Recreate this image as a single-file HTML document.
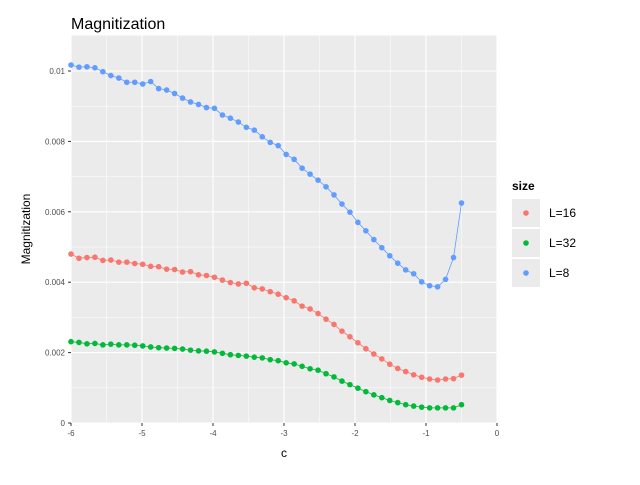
<!DOCTYPE html>
<html><head><meta charset="utf-8"><style>
body{margin:0;background:#fff;font-family:"Liberation Sans",sans-serif}
svg text{font-family:"Liberation Sans",sans-serif}
</style></head><body>
<svg id="chart" width="640" height="480" xmlns="http://www.w3.org/2000/svg">
<text x="71" y="29" font-size="16" fill="#000">Magnitization</text>
<rect x="71" y="35" width="426" height="388" fill="#EBEBEB"/>
<g id="grid"></g>
<g id="axes"></g>
<g id="series"></g>
<text x="284" y="457" font-size="12" text-anchor="middle">c</text>
<text transform="translate(30,229) rotate(-90)" font-size="12" text-anchor="middle">Magnitization</text>
<g>
<text x="512" y="190" font-size="12" font-weight="bold">size</text>
<g id="legend"></g>
</g>
</svg>
<script>
const cValues=[];for(let i=0;i<50;i++)cValues.push(-6+i*5.5/49);
const seriesNames=["L=16","L=32","L=8"];
const seriesColors=["#F8766D","#00BA38","#619CFF"];
const valsL16=[4.80,4.68,4.70,4.71,4.62,4.63,4.57,4.57,4.53,4.51,4.45,4.44,4.37,4.36,4.29,4.30,4.21,4.19,4.14,4.06,3.99,3.95,3.97,3.84,3.81,3.73,3.66,3.56,3.47,3.32,3.24,3.11,2.95,2.80,2.61,2.45,2.28,2.11,1.96,1.82,1.67,1.55,1.46,1.37,1.30,1.25,1.22,1.25,1.26,1.36];
const valsL32=[2.31,2.29,2.25,2.26,2.22,2.24,2.22,2.22,2.21,2.19,2.16,2.14,2.13,2.12,2.10,2.07,2.05,2.04,2.02,1.98,1.94,1.92,1.90,1.87,1.85,1.80,1.77,1.71,1.68,1.61,1.54,1.50,1.40,1.31,1.19,1.09,0.99,0.89,0.80,0.72,0.64,0.58,0.52,0.48,0.45,0.43,0.43,0.43,0.43,0.52];
const valsL8=[10.17,10.11,10.12,10.09,9.98,9.87,9.80,9.68,9.68,9.63,9.70,9.50,9.46,9.36,9.23,9.12,9.05,8.96,8.94,8.75,8.66,8.55,8.40,8.32,8.13,7.97,7.88,7.63,7.49,7.24,7.07,6.90,6.71,6.48,6.22,5.99,5.70,5.46,5.21,4.98,4.75,4.54,4.35,4.24,4.01,3.90,3.87,4.08,4.70,6.25];
const xTicks=[-6,-5,-4,-3,-2,-1,0];
const xTickLabels=["-6","-5","-4","-3","-2","-1","0"];
const yTicks=[0,0.002,0.004,0.006,0.008,0.01];
const yTickLabels=["0","0.002","0.004","0.006","0.008","0.01"];
const NS="http://www.w3.org/2000/svg";
const X=v=>71+(v+6)*71;
const Y=v=>423-v*35200;
function mk(t,a,p){const e=document.createElementNS(NS,t);for(const k in a)e.setAttribute(k,a[k]);p.appendChild(e);return e;}
const grid=document.getElementById('grid'),axes=document.getElementById('axes');
for(let i=0;i<xTicks.length-1;i++){const m=(xTicks[i]+xTicks[i+1])/2;const l=mk('line',{x1:X(m),x2:X(m),y1:35,y2:423,stroke:'#fff','stroke-width':0.5},grid);
}
for(let i=0;i<yTicks.length;i++){const m=yTicks[i]+0.001;if(Y(m)<35)continue;const l=mk('line',{x1:71,x2:497,y1:Y(m),y2:Y(m),stroke:'#fff','stroke-width':0.5},grid);
}
xTicks.forEach((t,i)=>{const l=mk('line',{x1:X(t),x2:X(t),y1:35,y2:423,stroke:'#fff','stroke-width':1.1},grid);

mk('line',{x1:X(t),x2:X(t),y1:423,y2:426,stroke:'#333','stroke-width':1},axes);
const tx=mk('text',{x:X(t),y:436,'font-size':8,'text-anchor':'middle',fill:'#4d4d4d'},axes);tx.textContent=xTickLabels[i];
});
yTicks.forEach((t,i)=>{const l=mk('line',{x1:71,x2:497,y1:Y(t),y2:Y(t),stroke:'#fff','stroke-width':1.1},grid);

mk('line',{x1:68,x2:71,y1:Y(t),y2:Y(t),stroke:'#333','stroke-width':1},axes);
const tx=mk('text',{x:65,y:Y(t)+3,'font-size':8,'text-anchor':'end',fill:'#4d4d4d'},axes);tx.textContent=yTickLabels[i];
});
const ser=document.getElementById('series');
[valsL16,valsL32,valsL8].forEach((vals,s)=>{
const g=mk('g',{},ser);


const pts=vals.map((v,i)=>X(cValues[i])+','+Y(v/1000)).join(' ');
const pl=mk('polyline',{points:pts,fill:'none',stroke:seriesColors[s],'stroke-width':0.8},g);

vals.forEach((v,i)=>{const c=mk('circle',{cx:X(cValues[i]),cy:Y(v/1000),r:2.8,fill:seriesColors[s]},g);
});
});
const lg=document.getElementById('legend');
seriesNames.forEach((n,i)=>{const y0=199+i*30;
const r=mk('rect',{x:512,y:y0,width:28,height:28,fill:'#EBEBEB'},lg);

mk('circle',{cx:526,cy:y0+14,r:2.8,fill:seriesColors[i]},lg);
const t=mk('text',{x:549,y:y0+18,'font-size':12},lg);t.textContent=n;
});
</script>
</body></html>
